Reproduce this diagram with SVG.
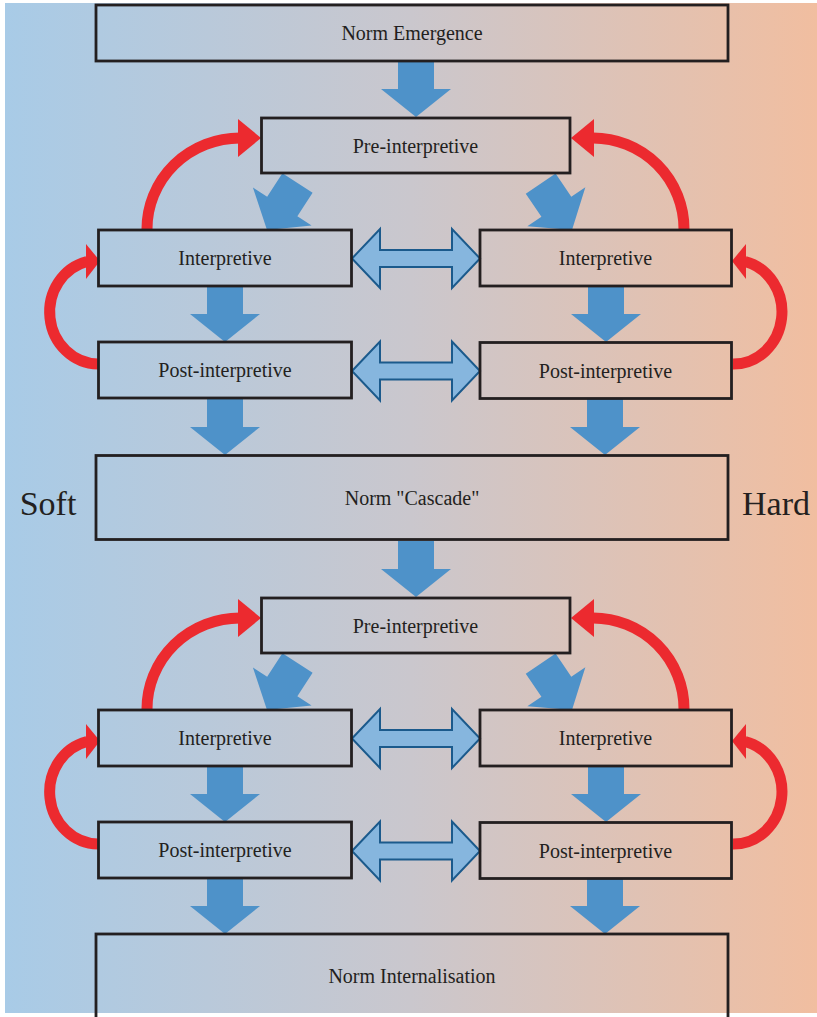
<svg xmlns="http://www.w3.org/2000/svg" xmlns:xlink="http://www.w3.org/1999/xlink" width="817" height="1017" viewBox="0 0 817 1017">
<defs>
<linearGradient id="bg" x1="5" y1="0" x2="817" y2="0" gradientUnits="userSpaceOnUse">
<stop offset="0" stop-color="#a8cbe7"/>
<stop offset="0.5" stop-color="#cac7cd"/>
<stop offset="1" stop-color="#f1bea0"/>
</linearGradient>
<path id="dn" d="M-18,-56 H18 V-28 H35 L0,0 L-35,-28 H-18 Z"/>
<path id="dbl" d="M-64,0 L-36,-29.5 V-8.5 H36 V-29.5 L64,0 L36,29.5 V8.5 H-36 V29.5 Z"/>
</defs>
<style>
.box{fill:none;stroke:#231f20;stroke-width:2.8}
.lbl{font-family:"Liberation Serif","Times New Roman",serif;font-size:20px;fill:#231f20;text-anchor:middle}
.side{font-family:"Liberation Serif","Times New Roman",serif;font-size:34px;fill:#231f20;text-anchor:middle}
.blue{fill:#4e92c9}
.dbl{fill:#86b6de;stroke:#1b5a8c;stroke-width:2;stroke-linejoin:miter}
.red{fill:none;stroke:#ec2a2f;stroke-width:11}
.redh{fill:#ec2a2f}
</style>
<rect x="5" y="3" width="812" height="1010" fill="url(#bg)"/>

<g id="connectors">
<!-- down arrows -->
<use xlink:href="#dn" class="blue" transform="translate(416,117)"/>
<use xlink:href="#dn" class="blue" transform="translate(267,230) rotate(33)"/>
<use xlink:href="#dn" class="blue" transform="translate(572,230) rotate(-34)"/>
<use xlink:href="#dn" class="blue" transform="translate(225,342)"/>
<use xlink:href="#dn" class="blue" transform="translate(606,342)"/>
<use xlink:href="#dn" class="blue" transform="translate(225,455)"/>
<use xlink:href="#dn" class="blue" transform="translate(605,455)"/>
<use xlink:href="#dn" class="blue" transform="translate(416,597)"/>
<use xlink:href="#dn" class="blue" transform="translate(267,710) rotate(33)"/>
<use xlink:href="#dn" class="blue" transform="translate(572,710) rotate(-34)"/>
<use xlink:href="#dn" class="blue" transform="translate(225,822)"/>
<use xlink:href="#dn" class="blue" transform="translate(606,822)"/>
<use xlink:href="#dn" class="blue" transform="translate(225,934)"/>
<use xlink:href="#dn" class="blue" transform="translate(605,934)"/>
<!-- double arrows -->
<use xlink:href="#dbl" class="dbl" transform="translate(416,258.5)"/>
<use xlink:href="#dbl" class="dbl" transform="translate(416,371)"/>
<use xlink:href="#dbl" class="dbl" transform="translate(416,738.5)"/>
<use xlink:href="#dbl" class="dbl" transform="translate(416,851)"/>
<!-- red feedback arrows, upper -->
<path class="red" d="M147,229 A93,91 0 0 1 240,138"/>
<polygon class="redh" points="261,138 238,119 238,157"/>
<path class="red" d="M684,229 A91,91 0 0 0 593,138"/>
<polygon class="redh" points="571,138 594,119 594,157"/>
<path class="red" d="M98,364 A49,52 0 0 1 87,261.5"/>
<polygon class="redh" points="100,261 86,244 86,279"/>
<path class="red" d="M733,364 A48.5,52 0 0 0 745,261.5"/>
<polygon class="redh" points="732,261 746,244 746,279"/>
<!-- red feedback arrows, lower -->
<path class="red" d="M147,709 A93,91 0 0 1 240,618"/>
<polygon class="redh" points="261,618 238,599 238,637"/>
<path class="red" d="M684,709 A91,91 0 0 0 593,618"/>
<polygon class="redh" points="571,618 594,599 594,637"/>
<path class="red" d="M98,844 A49,52 0 0 1 87,741.5"/>
<polygon class="redh" points="100,741 86,724 86,759"/>
<path class="red" d="M733,844 A48.5,52 0 0 0 745,741.5"/>
<polygon class="redh" points="732,741 746,724 746,759"/>
</g>

<g id="emergence"><rect class="box" x="96" y="5" width="632" height="56"/><text class="lbl" x="412" y="40">Norm Emergence</text></g>
<g id="pre1"><rect class="box" x="261.5" y="118" width="308.5" height="55"/><text class="lbl" x="415.5" y="152.5">Pre-interpretive</text></g>
<g id="interpL1"><rect class="box" x="98.5" y="230" width="253" height="56"/><text class="lbl" x="225" y="265">Interpretive</text></g>
<g id="interpR1"><rect class="box" x="480" y="230" width="251.5" height="56"/><text class="lbl" x="605.5" y="265">Interpretive</text></g>
<g id="postL1"><rect class="box" x="98.5" y="342" width="253" height="56"/><text class="lbl" x="225" y="377">Post-interpretive</text></g>
<g id="postR1"><rect class="box" x="480" y="342.5" width="251.5" height="56"/><text class="lbl" x="605.5" y="378">Post-interpretive</text></g>
<g id="cascade"><rect class="box" x="96" y="455.5" width="632" height="84"/><text class="lbl" x="412" y="505">Norm "Cascade"</text></g>
<g id="pre2"><rect class="box" x="261.5" y="598" width="308.5" height="55"/><text class="lbl" x="415.5" y="632.5">Pre-interpretive</text></g>
<g id="interpL2"><rect class="box" x="98.5" y="710" width="253" height="56"/><text class="lbl" x="225" y="745">Interpretive</text></g>
<g id="interpR2"><rect class="box" x="480" y="710" width="251.5" height="56"/><text class="lbl" x="605.5" y="745">Interpretive</text></g>
<g id="postL2"><rect class="box" x="98.5" y="822" width="253" height="56"/><text class="lbl" x="225" y="857">Post-interpretive</text></g>
<g id="postR2"><rect class="box" x="480" y="822.5" width="251.5" height="56"/><text class="lbl" x="605.5" y="858">Post-interpretive</text></g>
<g id="internalisation"><rect class="box" x="96" y="934" width="632" height="120"/><text class="lbl" x="412" y="983">Norm Internalisation</text></g>
<g id="soft"><text class="side" x="48" y="515">Soft</text></g>
<g id="hard"><text class="side" x="776" y="515">Hard</text></g>
</svg>
